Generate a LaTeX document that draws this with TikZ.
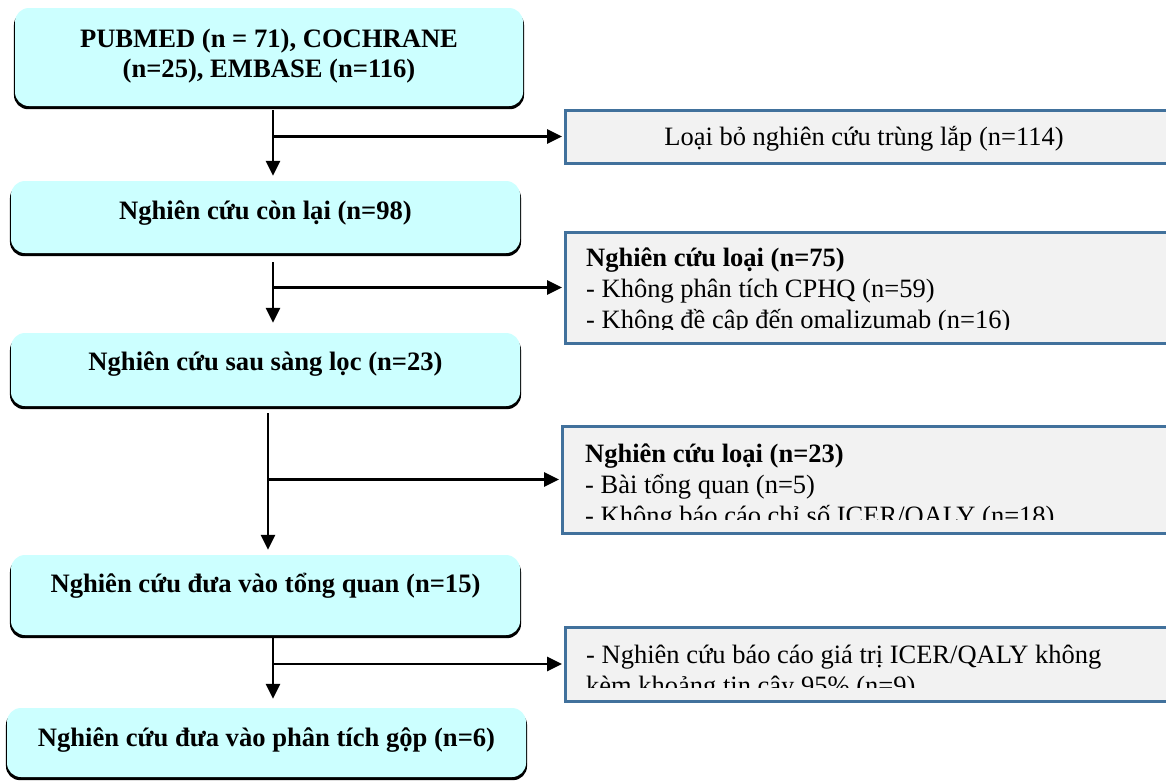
\documentclass[tikz,border=0pt]{standalone}
\usepackage{fontspec}
\setmainfont{Liberation Serif}
\usetikzlibrary{arrows.meta,shadows}
\definecolor{cyanfill}{RGB}{204,255,255}
\definecolor{grayfill}{RGB}{242,242,242}
\definecolor{bluebord}{RGB}{65,113,156}
\tikzset{
 cbox/.style={rectangle, rounded corners=14pt, fill=cyanfill, inner sep=0pt,
   general shadow={fill=black, shadow yshift=-3pt, shadow scale=1.004}},
 rbox/.style={rectangle, fill=grayfill, draw=bluebord, line width=3pt, inner sep=0pt},
 btext/.style={font=\fontsize{26.6}{30}\selectfont\bfseries, inner sep=0pt, align=center},
 rtext/.style={font=\fontsize{26.5}{31}\selectfont, inner sep=0pt, align=left},
 arr/.style={line width=2.8pt, -{Triangle[length=15pt,width=14pt]}},
}
\begin{document}
\begin{tikzpicture}[x=1pt,y=-1pt]
\useasboundingbox (0,0) rectangle (1166,780);
\fill[white] (0,0) rectangle (1166,780);
\clip (0,0) rectangle (1166,780);

% main cyan boxes
\node[cbox, minimum width=508pt, minimum height=98pt] (b1) at (269,57) {};
\node[cbox, minimum width=509pt, minimum height=72pt] (b2) at (265.5,217) {};
\node[cbox, minimum width=509pt, minimum height=73pt] (b3) at (265.5,369.5) {};
\node[cbox, minimum width=509pt, minimum height=80pt] (b4) at (265.5,595) {};
\node[cbox, minimum width=519pt, minimum height=69pt] (b5) at (266.5,742.5) {};

\node[btext, anchor=base] (t1) at (269,77) {PUBMED (n = 71), COCHRANE\\(n=25), EMBASE (n=116)};
\node[btext, anchor=base] (t2) at (265.5,219) {Nghiên cứu còn lại (n=98)};
\node[btext, anchor=base] (t3) at (265.5,370) {Nghiên cứu sau sàng lọc (n=23)};
\node[btext, anchor=base] (t4) at (265.5,592) {Nghiên cứu đưa vào tổng quan (n=15)};
\node[btext, anchor=base] (t5) at (266.5,746) {Nghiên cứu đưa vào phân tích gộp (n=6)};

% right grey boxes
\node[rbox, minimum width=603pt, minimum height=53pt] (r1) at (866.5,136.5) {};
\node[rbox, minimum width=603pt, minimum height=111pt] (r2) at (866.5,287.5) {};
\node[rbox, minimum width=606pt, minimum height=107pt] (r3) at (865,479.5) {};
\node[rbox, minimum width=603pt, minimum height=74pt] (r4) at (866.5,664) {};

\node[rtext, anchor=base] (u1) at (864,145) {Loại bỏ nghiên cứu trùng lắp (n=114)};
\begin{scope}
\clip ([xshift=1.5pt,yshift=-1.5pt]r2.north west) rectangle ([yshift=15pt]r2.south east);
\node[rtext, anchor=base west] (u2) at (586,328) {\textbf{Nghiên cứu loại (n=75)}\\- Không phân tích CPHQ (n=59)\\- Không đề cập đến omalizumab (n=16)};
\end{scope}
\begin{scope}
\clip ([xshift=1.5pt,yshift=-1.5pt]r3.north west) rectangle ([yshift=15pt]r3.south east);
\node[rtext, anchor=base west] (u3) at (585,524) {\textbf{Nghiên cứu loại (n=23)}\\- Bài tổng quan (n=5)\\- Không báo cáo chỉ số ICER/QALY (n=18)};
\end{scope}
\begin{scope}
\clip ([xshift=1.5pt,yshift=-1.5pt]r4.north west) rectangle ([yshift=15pt]r4.south east);
\node[rtext, anchor=base west] (u4) at (586,694) {- Nghiên cứu báo cáo giá trị ICER/QALY không\\kèm khoảng tin cậy 95\% (n=9)};
\end{scope}

% connectors
\coordinate (s1) at (273,110);
\coordinate (s2) at (273,262);
\coordinate (s3) at (268,413);
\coordinate (s4) at (273,637);
\draw[arr, shorten >=5pt] (s1) -- (s1 |- b2.north);
\draw[arr, shorten >=10pt] (s2) -- (s2 |- b3.north);
\draw[arr, shorten >=5pt] (s3) -- (s3 |- b4.north);
\draw[arr, shorten >=9pt] (s4) -- (s4 |- b5.north);
\draw[arr, shorten >=1.5pt] (s1 |- r1.west) -- (r1.west);
\draw[arr, shorten >=1.5pt] (s2 |- r2.west) -- (r2.west);
\draw[arr, shorten >=1.5pt] (s3 |- r3.west) -- (r3.west);
\draw[arr, shorten >=1.5pt] (s4 |- r4.west) -- (r4.west);
\end{tikzpicture}
\end{document}
